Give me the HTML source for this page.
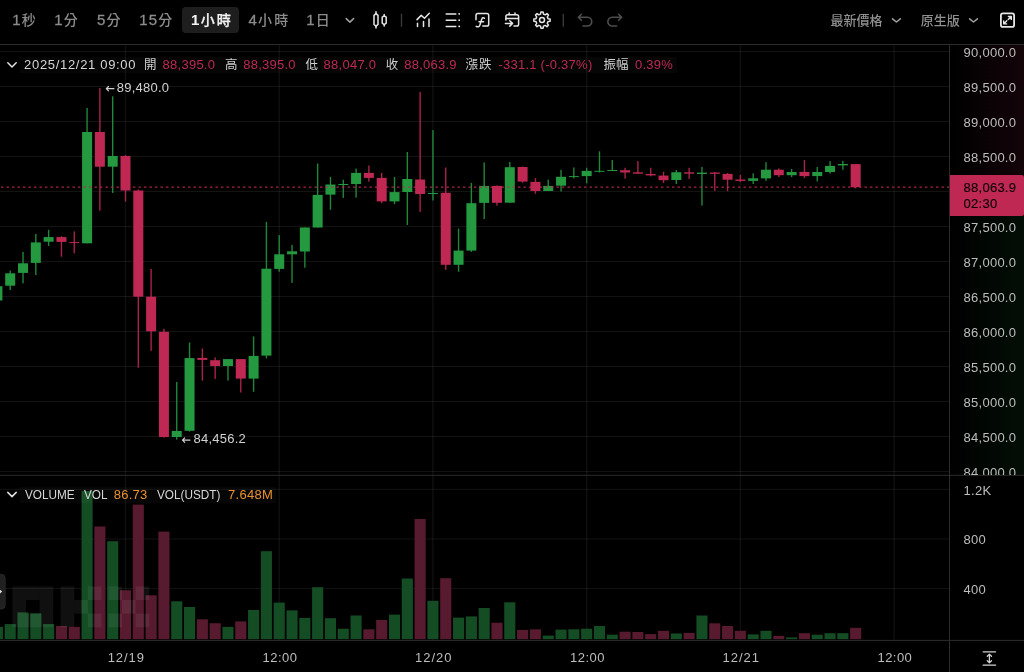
<!DOCTYPE html>
<html lang="zh-Hant"><head><meta charset="utf-8"><title>BTC/USDT 1小時 K線圖</title>
<style>
html,body{margin:0;padding:0;background:#000;}
body{width:1024px;height:672px;position:relative;overflow:hidden;font-family:"Liberation Sans","Noto Sans CJK TC",sans-serif;color:#c4c4c4;}
.cv{position:absolute;left:0;top:0;display:block}
.t{position:absolute;height:20px;line-height:20px;white-space:nowrap;font-size:13px;letter-spacing:.25px}
.tb{font-size:14px;color:#8c8c8c;letter-spacing:2.1px;font-weight:500}
.tb i{font-style:normal;font-size:15px;letter-spacing:1.2px;-webkit-text-stroke:.3px currentColor}
.s13{font-size:13px;letter-spacing:0;font-weight:500;color:#909090}
.sel{color:#f4f4f4;-webkit-text-stroke:.25px currentColor}
.sel i{font-weight:bold;-webkit-text-stroke:0}
.lg{color:#d6d6d6}
.cj{color:#cfcfcf;font-size:12.5px;letter-spacing:0}
.red{color:#be2853}
.or{color:#e8912d}
.cap{letter-spacing:0;transform:scaleX(.905);transform-origin:0 50%}
.hl{color:#d2d2d2}
.ax{color:#bdbdbd}
.tag{color:#12060a;-webkit-text-stroke:.2px #12060a}
.bx{color:#bdbdbd}
#vclip{position:absolute;left:950px;top:45px;width:74px;height:430px;overflow:hidden}
#vclip .t{position:absolute}
</style></head><body>
<svg class="cv" width="1024" height="672" viewBox="0 0 1024 672">
<defs><linearGradient id="gp" x1="0" x2="1" y1="0" y2="0"><stop offset="0" stop-color="#be2853" stop-opacity="0"/><stop offset="1" stop-color="#be2853" stop-opacity="0.10"/></linearGradient><linearGradient id="gg" x1="0" x2="1" y1="0" y2="0"><stop offset="0" stop-color="#249940" stop-opacity="0"/><stop offset="1" stop-color="#249940" stop-opacity="0.09"/></linearGradient><clipPath id="cm"><rect x="0" y="45" width="949.5" height="430"/></clipPath><clipPath id="cvp"><rect x="0" y="475.5" width="949.5" height="165"/></clipPath></defs>
<rect x="950" y="45" width="74" height="150" fill="url(#gp)"/>
<rect x="950" y="216" width="74" height="259" fill="url(#gg)"/>
<g stroke="#fff" stroke-opacity="0.075" stroke-width="1">
<line x1="0" x2="949.5" y1="51.5" y2="51.5"/>
<line x1="0" x2="949.5" y1="86.5" y2="86.5"/>
<line x1="0" x2="949.5" y1="121.5" y2="121.5"/>
<line x1="0" x2="949.5" y1="156.5" y2="156.5"/>
<line x1="0" x2="949.5" y1="191.5" y2="191.5"/>
<line x1="0" x2="949.5" y1="226.5" y2="226.5"/>
<line x1="0" x2="949.5" y1="261.5" y2="261.5"/>
<line x1="0" x2="949.5" y1="296.5" y2="296.5"/>
<line x1="0" x2="949.5" y1="331.5" y2="331.5"/>
<line x1="0" x2="949.5" y1="366.5" y2="366.5"/>
<line x1="0" x2="949.5" y1="401.5" y2="401.5"/>
<line x1="0" x2="949.5" y1="436.5" y2="436.5"/>
<line x1="0" x2="949.5" y1="471.5" y2="471.5"/>
<line x1="0" x2="949.5" y1="489.3" y2="489.3"/>
<line x1="0" x2="949.5" y1="539" y2="539"/>
<line x1="0" x2="949.5" y1="588.6" y2="588.6"/>
<line x1="125.5" x2="125.5" y1="45" y2="640" stroke-width="1.5" stroke-opacity="0.06"/>
<line x1="279.22" x2="279.22" y1="45" y2="640" stroke-width="1.5" stroke-opacity="0.06"/>
<line x1="432.94" x2="432.94" y1="45" y2="640" stroke-width="1.5" stroke-opacity="0.06"/>
<line x1="586.66" x2="586.66" y1="45" y2="640" stroke-width="1.5" stroke-opacity="0.06"/>
<line x1="740.38" x2="740.38" y1="45" y2="640" stroke-width="1.5" stroke-opacity="0.06"/>
<line x1="894.1" x2="894.1" y1="45" y2="640" stroke-width="1.5" stroke-opacity="0.06"/>
</g>
<g clip-path="url(#cvp)">
<rect x="-8.15" y="626.9" width="11.1" height="12.3" fill="#144d24"/>
<rect x="4.66" y="624.1" width="11.1" height="15.1" fill="#144d24"/>
<rect x="17.47" y="612.4" width="11.1" height="26.8" fill="#144d24"/>
<rect x="30.28" y="613.3" width="11.1" height="25.9" fill="#144d24"/>
<rect x="43.09" y="624.1" width="11.1" height="15.1" fill="#144d24"/>
<rect x="55.90" y="626" width="11.1" height="13.2" fill="#581a2e"/>
<rect x="68.71" y="626.9" width="11.1" height="12.3" fill="#581a2e"/>
<rect x="81.52" y="491" width="11.1" height="148.2" fill="#144d24"/>
<rect x="94.33" y="526.5" width="11.1" height="112.7" fill="#581a2e"/>
<rect x="107.14" y="541.2" width="11.1" height="98.0" fill="#144d24"/>
<rect x="119.95" y="590.2" width="11.1" height="49.0" fill="#581a2e"/>
<rect x="132.76" y="504.6" width="11.1" height="134.6" fill="#581a2e"/>
<rect x="145.57" y="595.3" width="11.1" height="43.9" fill="#581a2e"/>
<rect x="158.38" y="531.6" width="11.1" height="107.6" fill="#581a2e"/>
<rect x="171.19" y="601.3" width="11.1" height="37.9" fill="#144d24"/>
<rect x="184.00" y="607" width="11.1" height="32.2" fill="#144d24"/>
<rect x="196.81" y="619.3" width="11.1" height="19.9" fill="#581a2e"/>
<rect x="209.62" y="623.2" width="11.1" height="16.0" fill="#581a2e"/>
<rect x="222.43" y="626.9" width="11.1" height="12.3" fill="#144d24"/>
<rect x="235.24" y="621.4" width="11.1" height="17.8" fill="#581a2e"/>
<rect x="248.05" y="610" width="11.1" height="29.2" fill="#144d24"/>
<rect x="260.86" y="551.2" width="11.1" height="88.0" fill="#144d24"/>
<rect x="273.67" y="602.6" width="11.1" height="36.6" fill="#144d24"/>
<rect x="286.48" y="610.4" width="11.1" height="28.8" fill="#144d24"/>
<rect x="299.29" y="617.9" width="11.1" height="21.3" fill="#144d24"/>
<rect x="312.10" y="587.2" width="11.1" height="52.0" fill="#144d24"/>
<rect x="324.91" y="618.2" width="11.1" height="21.0" fill="#144d24"/>
<rect x="337.72" y="628.7" width="11.1" height="10.5" fill="#144d24"/>
<rect x="350.53" y="615.5" width="11.1" height="23.7" fill="#144d24"/>
<rect x="363.34" y="629.3" width="11.1" height="9.9" fill="#581a2e"/>
<rect x="376.15" y="620" width="11.1" height="19.2" fill="#581a2e"/>
<rect x="388.96" y="614.6" width="11.1" height="24.6" fill="#144d24"/>
<rect x="401.77" y="578.5" width="11.1" height="60.7" fill="#144d24"/>
<rect x="414.58" y="519" width="11.1" height="120.2" fill="#581a2e"/>
<rect x="427.39" y="600.8" width="11.1" height="38.4" fill="#144d24"/>
<rect x="440.20" y="578.2" width="11.1" height="61.0" fill="#581a2e"/>
<rect x="453.01" y="617.6" width="11.1" height="21.6" fill="#144d24"/>
<rect x="465.82" y="616.4" width="11.1" height="22.8" fill="#144d24"/>
<rect x="478.63" y="608" width="11.1" height="31.2" fill="#144d24"/>
<rect x="491.44" y="622.7" width="11.1" height="16.5" fill="#581a2e"/>
<rect x="504.25" y="602.3" width="11.1" height="36.9" fill="#144d24"/>
<rect x="517.06" y="629.9" width="11.1" height="9.3" fill="#581a2e"/>
<rect x="529.87" y="629.3" width="11.1" height="9.9" fill="#581a2e"/>
<rect x="542.68" y="635.6" width="11.1" height="3.6" fill="#144d24"/>
<rect x="555.49" y="629.6" width="11.1" height="9.6" fill="#144d24"/>
<rect x="568.30" y="629.3" width="11.1" height="9.9" fill="#144d24"/>
<rect x="581.11" y="628.7" width="11.1" height="10.5" fill="#144d24"/>
<rect x="593.92" y="626" width="11.1" height="13.2" fill="#144d24"/>
<rect x="606.73" y="634.7" width="11.1" height="4.5" fill="#144d24"/>
<rect x="619.54" y="631.7" width="11.1" height="7.5" fill="#581a2e"/>
<rect x="632.35" y="632" width="11.1" height="7.2" fill="#581a2e"/>
<rect x="645.16" y="634.1" width="11.1" height="5.1" fill="#581a2e"/>
<rect x="657.97" y="630.8" width="11.1" height="8.4" fill="#581a2e"/>
<rect x="670.78" y="633.5" width="11.1" height="5.7" fill="#144d24"/>
<rect x="683.59" y="632.9" width="11.1" height="6.3" fill="#581a2e"/>
<rect x="696.40" y="615.5" width="11.1" height="23.7" fill="#144d24"/>
<rect x="709.21" y="623.3" width="11.1" height="15.9" fill="#581a2e"/>
<rect x="722.02" y="626" width="11.1" height="13.2" fill="#581a2e"/>
<rect x="734.83" y="630.8" width="11.1" height="8.4" fill="#581a2e"/>
<rect x="747.64" y="634.4" width="11.1" height="4.8" fill="#144d24"/>
<rect x="760.45" y="630.8" width="11.1" height="8.4" fill="#144d24"/>
<rect x="773.26" y="635.9" width="11.1" height="3.3" fill="#581a2e"/>
<rect x="786.07" y="637.4" width="11.1" height="1.8" fill="#144d24"/>
<rect x="798.88" y="633.2" width="11.1" height="6.0" fill="#581a2e"/>
<rect x="811.69" y="634.7" width="11.1" height="4.5" fill="#144d24"/>
<rect x="824.50" y="633.2" width="11.1" height="6.0" fill="#144d24"/>
<rect x="837.31" y="633.2" width="11.1" height="6.0" fill="#144d24"/>
<rect x="850.12" y="627.8" width="11.1" height="11.4" fill="#581a2e"/>
</g>
<g fill="#ffffff" fill-opacity="0.062"><rect x="12.4" y="586.4" width="13.65" height="13.65"/><rect x="26.0" y="586.4" width="13.65" height="13.65"/><rect x="39.6" y="586.4" width="13.65" height="13.65"/><rect x="12.4" y="600.0" width="13.65" height="13.65"/><rect x="39.6" y="600.0" width="13.65" height="13.65"/><rect x="12.4" y="613.6" width="13.65" height="13.65"/><rect x="26.0" y="613.6" width="13.65" height="13.65"/><rect x="39.6" y="613.6" width="13.65" height="13.65"/><rect x="60.6" y="586.4" width="13.65" height="13.65"/><rect x="87.8" y="586.4" width="13.65" height="13.65"/><rect x="60.6" y="600.0" width="13.65" height="13.65"/><rect x="74.2" y="600.0" width="13.65" height="13.65"/><rect x="60.6" y="613.6" width="13.65" height="13.65"/><rect x="87.8" y="613.6" width="13.65" height="13.65"/><rect x="108.4" y="586.4" width="13.65" height="13.65"/><rect x="135.6" y="586.4" width="13.65" height="13.65"/><rect x="122.0" y="600.0" width="13.65" height="13.65"/><rect x="108.4" y="613.6" width="13.65" height="13.65"/><rect x="135.6" y="613.6" width="13.65" height="13.65"/></g>
<g clip-path="url(#cm)">
<rect x="-3.30" y="284" width="1.4" height="18.0" fill="#249940" fill-opacity="0.88"/>
<rect x="-7.60" y="286.2" width="10" height="14.3" fill="#249940"/>
<rect x="9.51" y="270.5" width="1.4" height="19.5" fill="#249940" fill-opacity="0.88"/>
<rect x="5.21" y="273.3" width="10" height="12.4" fill="#249940"/>
<rect x="22.32" y="251.9" width="1.4" height="31.4" fill="#249940" fill-opacity="0.88"/>
<rect x="18.02" y="263.3" width="10" height="9.6" fill="#249940"/>
<rect x="35.13" y="234" width="1.4" height="41.0" fill="#249940" fill-opacity="0.88"/>
<rect x="30.83" y="242.4" width="10" height="20.5" fill="#249940"/>
<rect x="47.94" y="229.8" width="1.4" height="16.2" fill="#249940" fill-opacity="0.88"/>
<rect x="43.64" y="237.1" width="10" height="4.6" fill="#249940"/>
<rect x="60.75" y="236.2" width="1.4" height="20.5" fill="#be2853" fill-opacity="0.88"/>
<rect x="56.45" y="237.1" width="10" height="4.8" fill="#be2853"/>
<rect x="73.56" y="231.4" width="1.4" height="21.9" fill="#be2853" fill-opacity="0.88"/>
<rect x="69.26" y="242.1" width="10" height="1.0" fill="#be2853"/>
<rect x="86.37" y="108" width="1.4" height="135.3" fill="#249940" fill-opacity="0.88"/>
<rect x="82.07" y="132" width="10" height="111.3" fill="#249940"/>
<rect x="99.18" y="88" width="1.4" height="122.7" fill="#be2853" fill-opacity="0.88"/>
<rect x="94.88" y="132" width="10" height="34.7" fill="#be2853"/>
<rect x="111.99" y="96.3" width="1.4" height="96.6" fill="#249940" fill-opacity="0.88"/>
<rect x="107.69" y="156" width="10" height="10.7" fill="#249940"/>
<rect x="124.80" y="155" width="1.4" height="46.7" fill="#be2853" fill-opacity="0.88"/>
<rect x="120.50" y="156" width="10" height="34.5" fill="#be2853"/>
<rect x="137.61" y="189.5" width="1.4" height="178.2" fill="#be2853" fill-opacity="0.88"/>
<rect x="133.31" y="190.5" width="10" height="106.2" fill="#be2853"/>
<rect x="150.42" y="269" width="1.4" height="81.8" fill="#be2853" fill-opacity="0.88"/>
<rect x="146.12" y="296.7" width="10" height="34.6" fill="#be2853"/>
<rect x="163.23" y="328.8" width="1.4" height="108.9" fill="#be2853" fill-opacity="0.88"/>
<rect x="158.93" y="331.8" width="10" height="105.2" fill="#be2853"/>
<rect x="176.04" y="381.9" width="1.4" height="57.7" fill="#249940" fill-opacity="0.88"/>
<rect x="171.74" y="431" width="10" height="6.0" fill="#249940"/>
<rect x="188.85" y="342.5" width="1.4" height="89.1" fill="#249940" fill-opacity="0.88"/>
<rect x="184.55" y="358.1" width="10" height="72.7" fill="#249940"/>
<rect x="201.66" y="348.5" width="1.4" height="32.1" fill="#be2853" fill-opacity="0.88"/>
<rect x="197.36" y="357.9" width="10" height="2.0" fill="#be2853"/>
<rect x="214.47" y="357.4" width="1.4" height="21.5" fill="#be2853" fill-opacity="0.88"/>
<rect x="210.17" y="360.2" width="10" height="5.8" fill="#be2853"/>
<rect x="227.28" y="359.1" width="1.4" height="21.5" fill="#249940" fill-opacity="0.88"/>
<rect x="222.98" y="359.1" width="10" height="6.9" fill="#249940"/>
<rect x="240.09" y="359" width="1.4" height="33.5" fill="#be2853" fill-opacity="0.88"/>
<rect x="235.79" y="359.1" width="10" height="19.5" fill="#be2853"/>
<rect x="252.90" y="336.4" width="1.4" height="55.4" fill="#249940" fill-opacity="0.88"/>
<rect x="248.60" y="355.9" width="10" height="22.7" fill="#249940"/>
<rect x="265.71" y="221.9" width="1.4" height="136.5" fill="#249940" fill-opacity="0.88"/>
<rect x="261.41" y="268.7" width="10" height="86.9" fill="#249940"/>
<rect x="278.52" y="235.1" width="1.4" height="36.6" fill="#249940" fill-opacity="0.88"/>
<rect x="274.22" y="254.3" width="10" height="14.6" fill="#249940"/>
<rect x="291.33" y="244.9" width="1.4" height="38.0" fill="#249940" fill-opacity="0.88"/>
<rect x="287.03" y="251.3" width="10" height="3.0" fill="#249940"/>
<rect x="304.14" y="227.5" width="1.4" height="40.2" fill="#249940" fill-opacity="0.88"/>
<rect x="299.84" y="227.5" width="10" height="24.0" fill="#249940"/>
<rect x="316.95" y="163.5" width="1.4" height="64.0" fill="#249940" fill-opacity="0.88"/>
<rect x="312.65" y="194.9" width="10" height="32.6" fill="#249940"/>
<rect x="329.76" y="176.9" width="1.4" height="32.9" fill="#249940" fill-opacity="0.88"/>
<rect x="325.46" y="184.5" width="10" height="10.1" fill="#249940"/>
<rect x="342.57" y="179.7" width="1.4" height="18.2" fill="#249940" fill-opacity="0.88"/>
<rect x="338.27" y="184" width="10" height="1.0" fill="#249940"/>
<rect x="355.38" y="168.6" width="1.4" height="29.0" fill="#249940" fill-opacity="0.88"/>
<rect x="351.08" y="172.9" width="10" height="11.1" fill="#249940"/>
<rect x="368.19" y="165.5" width="1.4" height="16.2" fill="#be2853" fill-opacity="0.88"/>
<rect x="363.89" y="172.9" width="10" height="5.0" fill="#be2853"/>
<rect x="381.00" y="172.9" width="1.4" height="30.3" fill="#be2853" fill-opacity="0.88"/>
<rect x="376.70" y="177.9" width="10" height="23.5" fill="#be2853"/>
<rect x="393.81" y="176.9" width="1.4" height="27.1" fill="#249940" fill-opacity="0.88"/>
<rect x="389.51" y="192.1" width="10" height="9.3" fill="#249940"/>
<rect x="406.62" y="152" width="1.4" height="73.0" fill="#249940" fill-opacity="0.88"/>
<rect x="402.32" y="179" width="10" height="13.0" fill="#249940"/>
<rect x="419.43" y="91.9" width="1.4" height="120.0" fill="#be2853" fill-opacity="0.88"/>
<rect x="415.13" y="179.5" width="10" height="14.5" fill="#be2853"/>
<rect x="432.24" y="130.1" width="1.4" height="70.4" fill="#249940" fill-opacity="0.88"/>
<rect x="427.94" y="193" width="10" height="1.0" fill="#249940"/>
<rect x="445.05" y="167.5" width="1.4" height="102.4" fill="#be2853" fill-opacity="0.88"/>
<rect x="440.75" y="192.8" width="10" height="72.0" fill="#be2853"/>
<rect x="457.86" y="228.6" width="1.4" height="43.2" fill="#249940" fill-opacity="0.88"/>
<rect x="453.56" y="250.6" width="10" height="14.2" fill="#249940"/>
<rect x="470.67" y="182.9" width="1.4" height="69.0" fill="#249940" fill-opacity="0.88"/>
<rect x="466.37" y="203.2" width="10" height="47.4" fill="#249940"/>
<rect x="483.48" y="162.4" width="1.4" height="56.6" fill="#249940" fill-opacity="0.88"/>
<rect x="479.18" y="185.9" width="10" height="17.0" fill="#249940"/>
<rect x="496.29" y="185.5" width="1.4" height="20.2" fill="#be2853" fill-opacity="0.88"/>
<rect x="491.99" y="185.9" width="10" height="16.9" fill="#be2853"/>
<rect x="509.10" y="161.9" width="1.4" height="40.8" fill="#249940" fill-opacity="0.88"/>
<rect x="504.80" y="167.2" width="10" height="35.5" fill="#249940"/>
<rect x="521.91" y="166.5" width="1.4" height="16.2" fill="#be2853" fill-opacity="0.88"/>
<rect x="517.61" y="167" width="10" height="14.6" fill="#be2853"/>
<rect x="534.72" y="178.1" width="1.4" height="15.7" fill="#be2853" fill-opacity="0.88"/>
<rect x="530.42" y="181.9" width="10" height="9.1" fill="#be2853"/>
<rect x="547.53" y="179.6" width="1.4" height="11.4" fill="#249940" fill-opacity="0.88"/>
<rect x="543.23" y="185.9" width="10" height="5.1" fill="#249940"/>
<rect x="560.34" y="169.8" width="1.4" height="21.7" fill="#249940" fill-opacity="0.88"/>
<rect x="556.04" y="176.8" width="10" height="8.9" fill="#249940"/>
<rect x="573.15" y="167.5" width="1.4" height="10.9" fill="#249940" fill-opacity="0.88"/>
<rect x="568.85" y="176.1" width="10" height="1.0" fill="#249940"/>
<rect x="585.96" y="167.8" width="1.4" height="15.5" fill="#249940" fill-opacity="0.88"/>
<rect x="581.66" y="170.9" width="10" height="5.2" fill="#249940"/>
<rect x="598.77" y="151.3" width="1.4" height="21.2" fill="#249940" fill-opacity="0.88"/>
<rect x="594.47" y="170.8" width="10" height="1.0" fill="#249940"/>
<rect x="611.58" y="160" width="1.4" height="11.0" fill="#249940" fill-opacity="0.88"/>
<rect x="607.28" y="170" width="10" height="1.0" fill="#249940"/>
<rect x="624.39" y="167.8" width="1.4" height="10.8" fill="#be2853" fill-opacity="0.88"/>
<rect x="620.09" y="170.2" width="10" height="2.3" fill="#be2853"/>
<rect x="637.20" y="161.1" width="1.4" height="12.9" fill="#be2853" fill-opacity="0.88"/>
<rect x="632.90" y="172.3" width="10" height="1.4" fill="#be2853"/>
<rect x="650.01" y="167.8" width="1.4" height="8.5" fill="#be2853" fill-opacity="0.88"/>
<rect x="645.71" y="174" width="10" height="1.4" fill="#be2853"/>
<rect x="662.82" y="171.7" width="1.4" height="11.3" fill="#be2853" fill-opacity="0.88"/>
<rect x="658.52" y="175.6" width="10" height="4.6" fill="#be2853"/>
<rect x="675.63" y="170" width="1.4" height="14.0" fill="#249940" fill-opacity="0.88"/>
<rect x="671.33" y="172.2" width="10" height="7.8" fill="#249940"/>
<rect x="688.44" y="167.8" width="1.4" height="11.2" fill="#be2853" fill-opacity="0.88"/>
<rect x="684.14" y="172.3" width="10" height="1.4" fill="#be2853"/>
<rect x="701.25" y="167" width="1.4" height="38.6" fill="#249940" fill-opacity="0.88"/>
<rect x="696.95" y="172.6" width="10" height="1.4" fill="#249940"/>
<rect x="714.06" y="171.9" width="1.4" height="19.0" fill="#be2853" fill-opacity="0.88"/>
<rect x="709.76" y="172.5" width="10" height="1.3" fill="#be2853"/>
<rect x="726.87" y="173" width="1.4" height="18.2" fill="#be2853" fill-opacity="0.88"/>
<rect x="722.57" y="173.9" width="10" height="5.8" fill="#be2853"/>
<rect x="739.68" y="175" width="1.4" height="7.2" fill="#be2853" fill-opacity="0.88"/>
<rect x="735.38" y="179.5" width="10" height="1.4" fill="#be2853"/>
<rect x="752.49" y="173.3" width="1.4" height="10.7" fill="#249940" fill-opacity="0.88"/>
<rect x="748.19" y="178.3" width="10" height="2.6" fill="#249940"/>
<rect x="765.30" y="162.2" width="1.4" height="18.7" fill="#249940" fill-opacity="0.88"/>
<rect x="761.00" y="169.7" width="10" height="8.7" fill="#249940"/>
<rect x="778.11" y="168.4" width="1.4" height="8.6" fill="#be2853" fill-opacity="0.88"/>
<rect x="773.81" y="169.7" width="10" height="5.5" fill="#be2853"/>
<rect x="790.92" y="168.9" width="1.4" height="8.1" fill="#249940" fill-opacity="0.88"/>
<rect x="786.62" y="172" width="10" height="3.2" fill="#249940"/>
<rect x="803.73" y="160" width="1.4" height="18.0" fill="#be2853" fill-opacity="0.88"/>
<rect x="799.43" y="171.9" width="10" height="4.2" fill="#be2853"/>
<rect x="816.54" y="167" width="1.4" height="14.4" fill="#249940" fill-opacity="0.88"/>
<rect x="812.24" y="172" width="10" height="4.1" fill="#249940"/>
<rect x="829.35" y="161.1" width="1.4" height="12.5" fill="#249940" fill-opacity="0.88"/>
<rect x="825.05" y="165.9" width="10" height="6.1" fill="#249940"/>
<rect x="842.16" y="160.8" width="1.4" height="9.0" fill="#249940" fill-opacity="0.88"/>
<rect x="837.86" y="164" width="10" height="1.4" fill="#249940"/>
<rect x="854.97" y="164" width="1.4" height="24.4" fill="#be2853" fill-opacity="0.88"/>
<rect x="850.67" y="164.1" width="10" height="23.1" fill="#be2853"/>
</g>
<line x1="1" x2="949.5" y1="187.1" y2="187.1" stroke="#be2853" stroke-opacity="0.9" stroke-width="1.4" stroke-dasharray="2.4 3.1"/>
<g stroke="#2c2c2c" stroke-width="1">
<line x1="0" x2="1024" y1="44.5" y2="44.5"/>
<line x1="0" x2="1024" y1="475.3" y2="475.3"/>
<line x1="0" x2="1024" y1="640.4" y2="640.4"/>
<line x1="949.5" x2="949.5" y1="45" y2="672"/>
</g>
<path d="M950 175 H1021.5 a2.5 2.5 0 0 1 2.5 2.5 V213.5 a2.5 2.5 0 0 1 -2.5 2.5 H950 Z" fill="#be2853"/>
<path d="M-1 574.3 H1.4 a3.8 3.8 0 0 1 3.8 3.8 V605.2 a3.8 3.8 0 0 1 -3.8 3.8 H-1 Z" fill="#202020" stroke="#2b2b2b" stroke-width="0.8"/>
<path d="M0 589.7 L2.2 591.6 L0 593.5 Z" fill="#e0e0e0"/>
<g stroke="#d2d2d2" stroke-width="1.3" fill="none" stroke-linecap="round" stroke-linejoin="round"><path d="M983.2 651.8 H995.6 M983.2 665.2 H995.6 M989.4 654.2 V662.8 M987.3 656.2 L989.4 654.1 L991.5 656.2 M987.3 660.8 L989.4 662.9 L991.5 660.8"/></g>
<g stroke="#d0d0d0" stroke-width="1.2" fill="none" stroke-linecap="round" stroke-linejoin="round"><path d="M106.3 88.7 H113.9 M108.5 86.5 L106.3 88.7 L108.5 90.9"/><path d="M182.5 440.1 H190 M184.7 437.9 L182.5 440.1 L184.7 442.3"/></g>
<g stroke="#e0e0e0" stroke-width="1.5" fill="none" stroke-linecap="round" stroke-linejoin="round"><path d="M7.8 62.8 L12 67 L16.2 62.8"/><path d="M7.8 492.4 L12 496.6 L16.2 492.4"/></g>
</svg>

<svg class="cv" width="1024" height="45" viewBox="0 0 1024 45">
<g fill="none" stroke="#a0a0a0" stroke-width="1.5" stroke-linecap="round" stroke-linejoin="round">
 <path d="M346.2 18.6 L349.9 22.1 L353.6 18.6"/>
 <path d="M892.5 18.8 L896.4 22 L900.3 18.8"/>
 <path d="M969.6 18.8 L973.5 22 L977.4 18.8"/>
</g>
<g fill="none" stroke="#e6e6e6" stroke-width="1.5" stroke-linecap="round" stroke-linejoin="round">
 <!-- candle icon -->
 <path d="M374 15.4 L376 13.6 L378 15.4 V24.4 L376 26.2 L374 24.4 Z"/>
 <path d="M376 11.8 V13.4 M376 26.4 V28"/>
 <path d="M382.2 17.2 L384.2 15.8 L386.2 17.2 V23.2 L384.2 24.6 L382.2 23.2 Z"/>
 <path d="M384.2 14.6 V15.6 M384.2 24.8 V26"/>
 <!-- indicator -->
 <path d="M417 19.6 L421.2 15.4 L424.5 18.2 L429.3 13.2"/>
 <path d="M417.5 23.2 V26.4 M423.5 21.4 V26.4 M429 19 V26.4"/>
 <!-- list -->
 <path d="M446.2 13.9 H455.8 M446.2 20.2 H455.8 M446.2 26.4 H455.8"/>
 <!-- fx -->
 <path d="M476 19.8 V15.2 a1.8 1.8 0 0 1 1.8 -1.8 H486.9 a1.8 1.8 0 0 1 1.8 1.8 V24.2 a1.8 1.8 0 0 1 -1.8 1.8 H482.8"/>
 <path d="M484.4 18.3 C483.6 17.3 482.2 17.5 481.8 19 L479.8 25.4 C479.3 26.9 477.6 27.2 476.2 26.3 M479 21.7 H483.6"/>
 <!-- calendar arrow -->
 <path d="M505.9 20 V16.6 a1.8 1.8 0 0 1 1.8 -1.8 H516.8 a1.8 1.8 0 0 1 1.8 1.8 V24.2 a1.8 1.8 0 0 1 -1.8 1.8 H514"/>
 <path d="M509.2 12.9 V14.6 M515 12.9 V14.6 M506 18.4 H518.4 M505.4 23.4 H512.2 M509.8 20.7 L512.5 23.4 L509.8 26.1"/>
</g>
<g fill="#e6e6e6"><rect x="458.4" y="13.1" width="1.6" height="1.6"/><rect x="458.4" y="19.4" width="1.6" height="1.6"/><rect x="458.4" y="25.6" width="1.6" height="1.6"/></g>
<!-- expand -->
<rect x="1000.9" y="13.3" width="13.2" height="13.6" rx="2" fill="none" stroke="#e6e6e6" stroke-width="1.8"/>
<g fill="none" stroke="#e6e6e6" stroke-width="1.4" stroke-linecap="round" stroke-linejoin="round">
 <path d="M1008.4 16.5 H1011.3 V19.4 M1011.1 16.7 L1008.2 19.6 M1006.6 23.9 H1003.7 V21 M1003.9 23.7 L1006.8 20.8"/>
</g>
<!-- gear -->
<g fill="none" stroke="#e6e6e6" stroke-width="1.5" stroke-linejoin="round">
 <circle cx="542" cy="20.1" r="2.5"/>
 <path d="M548.03 18.65 L550.13 19.01 L550.13 21.19 L548.03 21.55 L547.29 23.34 L548.52 25.07 L546.97 26.62 L545.24 25.39 L543.45 26.13 L543.09 28.23 L540.91 28.23 L540.55 26.13 L538.76 25.39 L537.03 26.62 L535.48 25.07 L536.71 23.34 L535.97 21.55 L533.87 21.19 L533.87 19.01 L535.97 18.65 L536.71 16.86 L535.48 15.13 L537.03 13.58 L538.76 14.81 L540.55 14.07 L540.91 11.97 L543.09 11.97 L543.45 14.07 L545.24 14.81 L546.97 13.58 L548.52 15.13 L547.29 16.86 Z"/>
</g>
<g stroke="#383838" stroke-width="1.4"><path d="M401.5 13.8 V26.7 M563.3 13.8 V26.7"/></g>
<g fill="none" stroke="#4d4d4d" stroke-width="1.6" stroke-linecap="round" stroke-linejoin="round">
 <path d="M581.4 14.3 L578.3 17.3 L581.4 20.3 M578.5 17.3 H587.4 a4.35 4.35 0 0 1 0 8.7 H583"/>
 <path d="M618.6 14.3 L621.7 17.3 L618.6 20.3 M621.5 17.3 H612.2 a4.35 4.35 0 0 0 0 8.7 H616.6"/>
</g>
</svg>

<div class="t tb" style="left:12.3px;top:9.7px;"><i>1</i>秒</div>
<div class="t tb" style="left:54.3px;top:9.7px;"><i>1</i>分</div>
<div class="t tb" style="left:97.0px;top:9.7px;"><i>5</i>分</div>
<div class="t tb" style="left:139.2px;top:9.7px;"><i>15</i>分</div>
<div style="position:absolute;left:181.7px;top:7.4px;width:57.6px;height:25.8px;border-radius:4px;background:#1e1e1e"></div>
<div class="t tb sel" style="left:191.1px;top:9.7px;"><i>1</i>小時</div>
<div class="t tb" style="left:248.5px;top:9.7px;"><i>4</i>小時</div>
<div class="t tb" style="left:306.3px;top:9.7px;"><i>1</i>日</div>
<div class="t tb s13" style="left:830.5px;top:10.5px;">最新價格</div>
<div class="t tb s13" style="left:920.8px;top:10.5px;">原生版</div>
<div style="position:absolute;left:20px;top:56.5px;width:657px;height:16.5px;background:rgba(255,255,255,0.024)"></div>
<div class="t lg" style="left:24.1px;top:54.8px;letter-spacing:.68px">2025/12/21 09:00</div>
<div class="t lg cj" style="left:144px;top:54.8px;">開</div>
<div class="t lg red" style="left:162.6px;top:54.8px;">88,395.0</div>
<div class="t lg cj" style="left:225px;top:54.8px;">高</div>
<div class="t lg red" style="left:243.2px;top:54.8px;">88,395.0</div>
<div class="t lg cj" style="left:305.4px;top:54.8px;">低</div>
<div class="t lg red" style="left:323.6px;top:54.8px;">88,047.0</div>
<div class="t lg cj" style="left:385.8px;top:54.8px;">收</div>
<div class="t lg red" style="left:404.2px;top:54.8px;">88,063.9</div>
<div class="t lg cj" style="left:465.6px;top:54.8px;letter-spacing:.8px">漲跌</div>
<div class="t lg red" style="left:498.4px;top:54.8px;">-331.1 (-0.37%)</div>
<div class="t lg cj" style="left:603.4px;top:54.8px;">振幅</div>
<div class="t lg red" style="left:635px;top:54.8px;">0.39%</div>
<div class="t lg hl" style="left:116.7px;top:77.7px;">89,480.0</div>
<div class="t lg hl" style="left:193.5px;top:428.9px;">84,456.2</div>
<div style="position:absolute;left:20px;top:486.8px;width:256px;height:16.4px;background:rgba(255,255,255,0.024)"></div>
<div class="t lg cap" style="left:24.5px;top:484.6px;">VOLUME</div>
<div class="t lg cap" style="left:84.0px;top:484.6px;">VOL</div>
<div class="t lg or" style="left:113.8px;top:484.6px;">86.73</div>
<div class="t lg cap" style="left:157.4px;top:484.6px;">VOL(USDT)</div>
<div class="t lg or" style="left:228.1px;top:484.6px;">7.648M</div>
<div id="vclip"><div class="t ax" style="left:13.6px;top:-2.3px;">90,000.0</div><div class="t ax" style="left:13.6px;top:32.7px;">89,500.0</div><div class="t ax" style="left:13.6px;top:67.7px;">89,000.0</div><div class="t ax" style="left:13.6px;top:102.7px;">88,500.0</div><div class="t ax" style="left:13.6px;top:172.7px;">87,500.0</div><div class="t ax" style="left:13.6px;top:207.7px;">87,000.0</div><div class="t ax" style="left:13.6px;top:242.7px;">86,500.0</div><div class="t ax" style="left:13.6px;top:277.7px;">86,000.0</div><div class="t ax" style="left:13.6px;top:312.7px;">85,500.0</div><div class="t ax" style="left:13.6px;top:347.7px;">85,000.0</div><div class="t ax" style="left:13.6px;top:382.7px;">84,500.0</div><div class="t ax" style="left:13.6px;top:417.7px;">84,000.0</div></div>
<div class="t ax" style="left:963.6px;top:480.6px;">1.2K</div>
<div class="t ax" style="left:963.6px;top:530.3px;">800</div>
<div class="t ax" style="left:963.6px;top:579.9px;">400</div>
<div class="t ax tag" style="left:963.6px;top:177.7px;">88,063.9</div>
<div class="t ax tag" style="left:963.6px;top:193.9px;">02:30</div>
<div class="t bx" style="left:96.3px;top:647.9px;width:60px;text-align:center;letter-spacing:.95px">12/19</div>
<div class="t bx" style="left:250.0px;top:647.9px;width:60px;text-align:center;letter-spacing:.45px">12:00</div>
<div class="t bx" style="left:403.7px;top:647.9px;width:60px;text-align:center;letter-spacing:.95px">12/20</div>
<div class="t bx" style="left:557.5px;top:647.9px;width:60px;text-align:center;letter-spacing:.45px">12:00</div>
<div class="t bx" style="left:711.2px;top:647.9px;width:60px;text-align:center;letter-spacing:.95px">12/21</div>
<div class="t bx" style="left:864.9px;top:647.9px;width:60px;text-align:center;letter-spacing:.45px">12:00</div>
</body></html>
